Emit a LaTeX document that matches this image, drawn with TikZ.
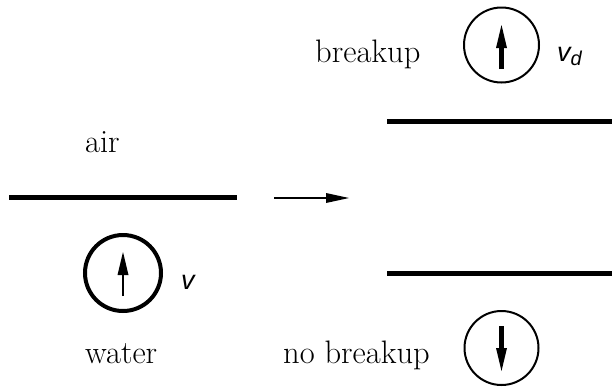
\documentclass[tikz,border=0pt]{standalone}
\usepackage{fontspec}
\newfontfamily\velfont{Liberation Sans}
\usetikzlibrary{arrows.meta}
\begin{document}
\begin{tikzpicture}[x=1pt,y=-1pt,
  lbl/.style={inner sep=0pt,anchor=base west,font=\fontsize{32.5}{38}\selectfont},
  vel/.style={inner sep=0pt,anchor=base west,font=\velfont\itshape\fontsize{27}{32}\selectfont},
  surf/.style={line width=5pt},
  drop/.style={draw,circle,inner sep=0pt},
  headfill/.style={fill=black,draw=none}
]
\useasboundingbox (0,0) rectangle (612,386);
% left: initial surface
\node[lbl] (air) at (85,152) {air};
\node[lbl] (water) at (85,363) {water};
\coordinate (s1a) at (9,197.5);
\coordinate (s1b) at (237,197.5);
\draw[surf] (s1a) -- (s1b);
\node[drop,line width=4pt,minimum size=76pt] (d1) at (123,273) {};
\coordinate (d1b) at (123,296);
\coordinate (d1h) at (123,273);
\draw[line width=2.5pt] (d1b) -- (d1h);
\fill[headfill] (123,252) -- (128.5,275) -- (117.5,275) -- cycle;
\node[vel] (v) at (181,289) {v};
% transition arrow
\coordinate (ta) at (274,198);
\coordinate (th) at (328,198);
\draw[line width=2pt] (ta) -- (th);
\fill[headfill] (349,198) -- (326,203) -- (326,193) -- cycle;
% right: two outcomes
\coordinate (s2a) at (387,121.5);
\coordinate (s2b) at (612,121.5);
\draw[surf] (s2a) -- (s2b);
\coordinate (s3a) at (387,273.5);
\coordinate (s3b) at (612,273.5);
\draw[surf] (s3a) -- (s3b);
\node[lbl] (bu) at (315,62) {breakup};
\node[drop,line width=2pt,minimum size=75pt] (d2) at (501.5,45) {};
\coordinate (d2b) at (501.5,69);
\coordinate (d2h) at (501.5,46);
\draw[line width=5pt] (d2b) -- (d2h);
\fill[headfill] (501.5,25) -- (507,48) -- (496,48) -- cycle;
\node[vel] (vd) at (557,61) {v\raisebox{-4pt}{\fontsize{20}{24}\selectfont d}};
\node[lbl] (nbu) at (283,363) {no breakup};
\node[drop,line width=2pt,minimum size=74pt] (d3) at (501.5,348) {};
\coordinate (d3t) at (501.5,326);
\coordinate (d3h) at (501.5,350);
\draw[line width=5pt] (d3t) -- (d3h);
\fill[headfill] (501.5,371) -- (507,348) -- (496,348) -- cycle;
\end{tikzpicture}
\end{document}
